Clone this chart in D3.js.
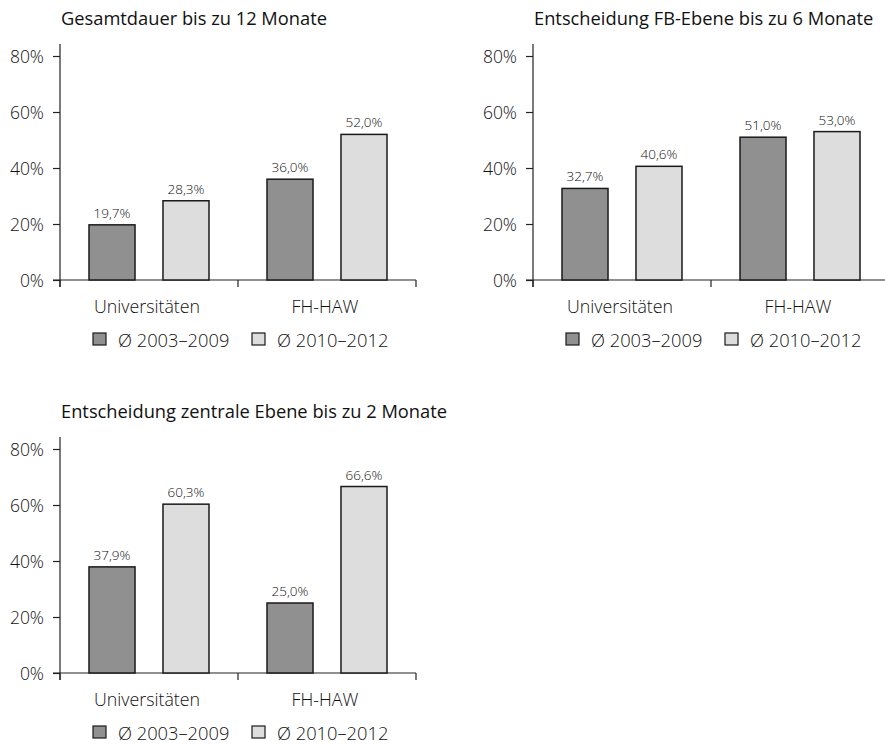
<!DOCTYPE html>
<html>
<head>
<meta charset="utf-8">
<script src="https://cdn.jsdelivr.net/npm/d3@7"></script>
<style>
  html, body { margin: 0; padding: 0; background: #fff; }
  svg text { font-family: "Open Sans", Roboto, "Liberation Sans", sans-serif; }
</style>
</head>
<body>
<svg id="chart" width="885" height="744"></svg>
<script>
// Shares of procedures completed within the given period, by institution type
const categories = ["Universitäten", "FH-HAW"];
const periods = ["Ø 2003–2009", "Ø 2010–2012"];
const titles = [
  "Gesamtdauer bis zu 12 Monate",
  "Entscheidung FB-Ebene bis zu 6 Monate",
  "Entscheidung zentrale Ebene bis zu 2 Monate"
];
const gesamtdauer = [[19.7, 28.3], [36.0, 52.0]];
const fbEbene = [[32.7, 40.6], [51.0, 53.0]];
const zentraleEbene = [[37.9, 60.3], [25.0, 66.6]];
const yTicks = [0, 20, 40, 60, 80];
const colors = ["#8f908f", "#dcdddc"];
const textColor = "#111";
const lightWeight = 350;

const panels = [
  { title: titles[0], values: gesamtdauer, dx: 0, dy: 0 },
  { title: titles[1], values: fbEbene, dx: 473, dy: 0 },
  { title: titles[2], values: zentraleEbene, dx: 0, dy: 393 }
];

const svg = d3.select("#chart");
const fmt = v => d3.format(".1f")(v).replace(".", ",") + "%";

panels.forEach(p => {
  const g = svg.append("g").attr("transform", `translate(${p.dx},${p.dy})`);
  const x0 = 60, x1 = 416, yBase = 280;

  const y = d3.scaleLinear().domain([0, 80]).range([yBase, 56]);
  const x = d3.scaleBand().domain(categories).range([x0, x1]);
  const xs = d3.scaleBand().domain(periods).range([0, x.bandwidth()])
    .paddingInner(0.378).paddingOuter(0.392);

  // title
  g.append("text").attr("x", 61).attr("y", 24.5).attr("fill", textColor)
    .style("font-size", "18.3px").text(p.title);

  // y axis
  const yAxis = d3.axisLeft(y).tickValues(yTicks).tickSize(7).tickPadding(9)
    .tickFormat(d => d + "%");
  const ya = g.append("g").attr("transform", `translate(${x0},0)`).call(yAxis);
  ya.select(".domain").remove();
  ya.selectAll(".tick line").attr("stroke", "#222").attr("stroke-width", 1.2);
  ya.selectAll(".tick text").style("font-size", "17.5px").style("font-weight", lightWeight)
    .style("font-family", null).attr("fill", textColor).attr("dy", "0.36em");
  g.append("line").attr("x1", x0).attr("x2", x0)
    .attr("y1", y(84.3)).attr("y2", yBase + 7)
    .attr("stroke", "#222").attr("stroke-width", 1.2);

  // x axis
  g.append("line").attr("x1", x0 - 7).attr("x2", x1)
    .attr("y1", yBase).attr("y2", yBase)
    .attr("stroke", "#222").attr("stroke-width", 1.2);
  const xTickPos = [x0, x0 + x.bandwidth(), x1];
  g.selectAll(".xtick").data(xTickPos).join("line")
    .attr("x1", d => d).attr("x2", d => d)
    .attr("y1", yBase).attr("y2", yBase + 7)
    .attr("stroke", "#222").attr("stroke-width", 1.2);
  g.selectAll(".xlab").data(categories).join("text")
    .attr("x", d => x(d) + x.bandwidth() / 2 - 2).attr("y", 313)
    .attr("text-anchor", "middle").attr("fill", textColor)
    .style("font-size", "17.8px").style("font-weight", lightWeight)
    .text(d => d);

  // bars with value labels
  categories.forEach((c, ci) => {
    const cg = g.append("g").attr("transform", `translate(${x(c)},0)`);
    periods.forEach((per, pi) => {
      const v = p.values[ci][pi];
      cg.append("rect")
        .attr("x", xs(per)).attr("width", xs.bandwidth())
        .attr("y", y(v)).attr("height", yBase - y(v))
        .attr("fill", colors[pi]).attr("stroke", "#1a1a1a").attr("stroke-width", 1.5);
      cg.append("text")
        .attr("x", xs(per) + xs.bandwidth() / 2).attr("y", y(v) - 7)
        .attr("text-anchor", "middle").attr("fill", textColor)
        .style("font-size", "13.5px").style("font-weight", lightWeight)
        .text(fmt(v));
    });
  });

  // legend
  const legX = [93, 252];
  periods.forEach((per, i) => {
    g.append("rect").attr("x", legX[i]).attr("y", 333).attr("width", 13).attr("height", 12)
      .attr("fill", colors[i]).attr("stroke", "#1a1a1a").attr("stroke-width", 1.2);
    g.append("text").attr("x", legX[i] + 25).attr("y", 347).attr("fill", textColor)
      .style("font-size", "18.3px").style("font-weight", lightWeight).text(per);
  });
});
</script>
</body>
</html>
